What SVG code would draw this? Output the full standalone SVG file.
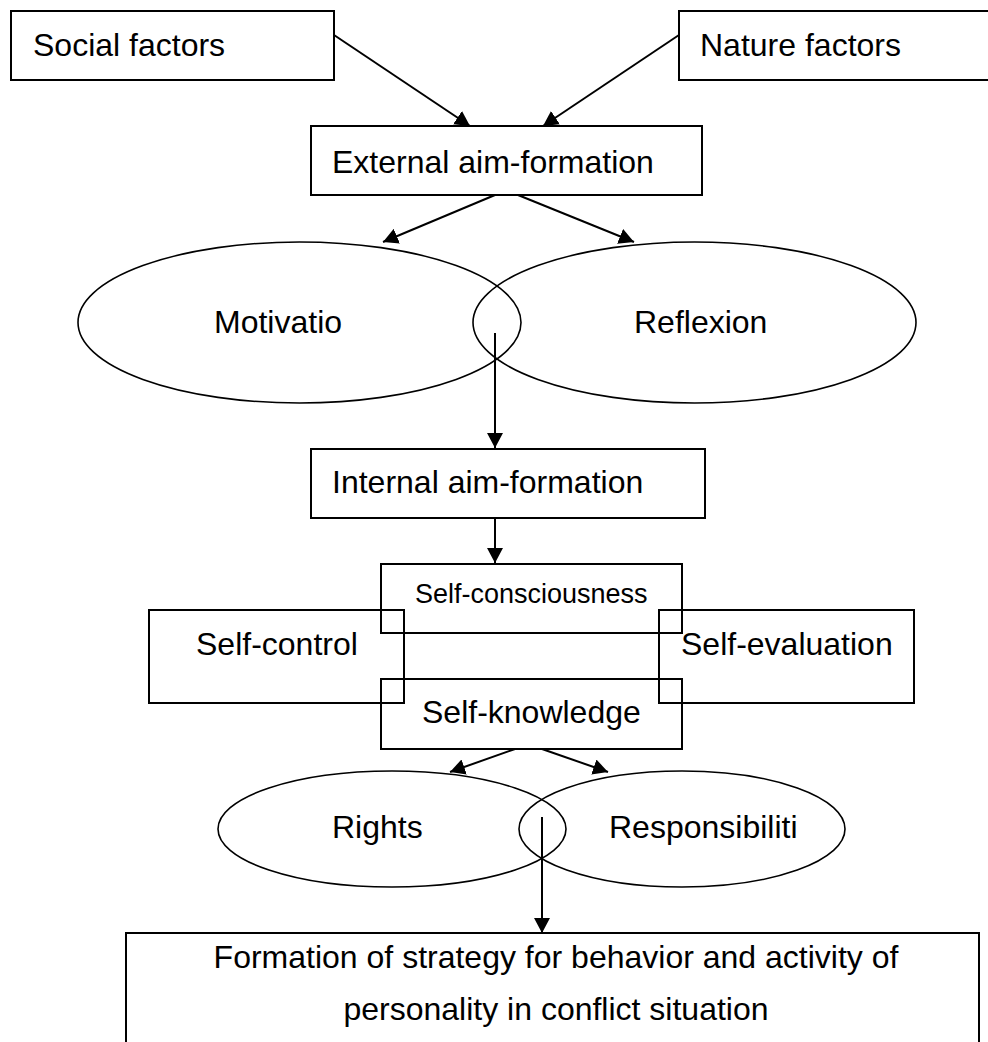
<svg xmlns="http://www.w3.org/2000/svg" width="988" height="1042" viewBox="0 0 988 1042">
<style>
.box{fill:none;stroke:#000;stroke-width:2}
.ell{fill:none;stroke:#000;stroke-width:1.6}
.t{font-family:"Liberation Sans",Arial,sans-serif;font-size:32px;fill:#000}
.s{font-size:27px}
.c{text-anchor:middle}
.ln{stroke:#000;stroke-width:2;fill:none;marker-end:url(#ah)}
</style>
<defs>
<marker id="ah" markerUnits="userSpaceOnUse" markerWidth="16" markerHeight="16" refX="15" refY="8" orient="auto">
<path d="M0,0 L15,8 L0,16 Z" fill="#000"/>
</marker>
</defs>
<rect width="988" height="1042" fill="#fff"/>
<g id="social"><rect class="box" x="11" y="11" width="323" height="69"/><text class="t" x="33" y="56">Social factors</text></g>
<g id="nature"><rect class="box" x="679" y="11" width="330" height="69"/><text class="t" x="700" y="56">Nature factors</text></g>
<g id="external"><rect class="box" x="311" y="126" width="391" height="69"/><text class="t" x="332" y="173">External aim-formation</text></g>
<g id="motivation"><ellipse class="ell" cx="299.5" cy="322.5" rx="221.5" ry="80.5"/><text class="t" x="214" y="333">Motivatio</text></g>
<g id="reflexion"><ellipse class="ell" cx="694.5" cy="322.5" rx="221.5" ry="80.5"/><text class="t" x="634" y="333">Reflexion</text></g>
<g id="internal"><rect class="box" x="311" y="449" width="394" height="69"/><text class="t" x="332" y="493">Internal aim-formation</text></g>
<g id="selfconsciousness"><rect class="box" x="381" y="564" width="301" height="69"/><text class="t s" x="415" y="603">Self-consciousness</text></g>
<g id="selfcontrol"><rect class="box" x="149" y="610" width="255" height="93"/><text class="t" x="196" y="655">Self-control</text></g>
<g id="selfevaluation"><rect class="box" x="659" y="610" width="255" height="93"/><text class="t" x="681" y="655">Self-evaluation</text></g>
<g id="selfknowledge"><rect class="box" x="381" y="679" width="301" height="70"/><text class="t" x="422" y="723">Self-knowledge</text></g>
<g id="rights"><ellipse class="ell" cx="392" cy="829" rx="174" ry="58"/><text class="t" x="332" y="838">Rights</text></g>
<g id="responsibilities"><ellipse class="ell" cx="682" cy="829" rx="163" ry="58"/><text class="t" x="609" y="838">Responsibiliti</text></g>
<g id="strategy"><rect class="box" x="126" y="933" width="853" height="130"/><text class="t c" x="556" y="968">Formation of strategy for behavior and activity of</text><text class="t c" x="556" y="1020">personality in conflict situation</text></g>
<g id="connectors">
<line class="ln" x1="334" y1="35" x2="470" y2="126"/>
<line class="ln" x1="679" y1="35" x2="543" y2="126"/>
<line class="ln" x1="495" y1="195" x2="383" y2="242"/>
<line class="ln" x1="518" y1="195" x2="634" y2="242"/>
<line class="ln" x1="495" y1="333" x2="495" y2="448"/>
<line class="ln" x1="495" y1="518" x2="495" y2="563"/>
<line class="ln" x1="515" y1="749" x2="450" y2="772"/>
<line class="ln" x1="542" y1="749" x2="608" y2="772"/>
<line class="ln" x1="542" y1="817" x2="542" y2="933"/>
</g>
</svg>
